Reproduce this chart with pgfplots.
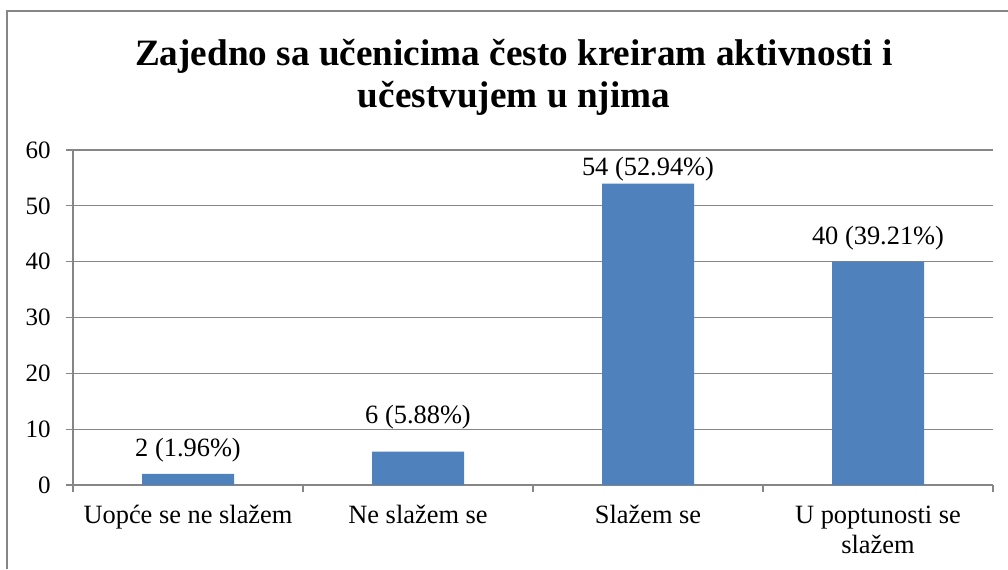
\documentclass[border=0pt]{standalone}
\usepackage{pgfplots}
\pgfplotsset{compat=1.18}
\usepackage{fontspec}
\setmainfont{Liberation Serif}
\definecolor{barblue}{HTML}{4F81BD}
\definecolor{linegray}{HTML}{868686}
\newcommand{\lblfont}{\fontsize{13.2}{15}\selectfont}
\begin{document}
\begin{tikzpicture}
% canvas: 1 px of the reference = 0.5pt
\useasboundingbox (0,0) rectangle (504pt,-284.5pt);
\draw[linegray, line width=1pt] (3.5pt,-284.5pt) -- (3.5pt,-5.5pt) -- (504pt,-5.5pt);
\node[anchor=base, font=\fontsize{18.6}{22}\selectfont\bfseries] at (257pt,-32.5pt)
  {Zajedno sa učenicima često kreiram aktivnosti i};
\node[anchor=base, font=\fontsize{18.6}{22}\selectfont\bfseries] at (257pt,-53.85pt)
  {učestvujem u njima};
\begin{axis}[
    at={(36.5pt,-242.5pt)}, anchor=south west,
    scale only axis,
    width=460pt, height=167.5pt,
    xmin=-0.5, xmax=3.5,
    ymin=0, ymax=60,
    enlargelimits=false,
    axis lines*=left,
    axis line style={linegray, line width=0.6pt},
    ymajorgrids,
    grid style={linegray, line width=0.6pt},
    tick align=outside,
    major tick length=3.5pt,
    tick style={linegray, line width=0.6pt},
    ytick={0,10,...,60},
    xtick={-0.5,0.5,1.5,2.5,3.5},
    xticklabels={Uopće se ne slažem, Ne slažem se, Slažem se,
      {\begin{tabular}[t]{@{}c@{}}U poptunosti se\\slažem\end{tabular}}, {}},
    xticklabel style={anchor=base, yshift=-15.7pt, xshift=57.5pt, font=\lblfont},
    yticklabel style={anchor=east, inner sep=0pt, xshift=-7.5pt,
      font=\fontsize{12.5}{14}\selectfont},
    /pgf/number format/assume math mode=true,
    ybar, bar width=46pt,
]
\addplot[fill=barblue, draw=none] coordinates {(0,2) (1,6) (2,54) (3,40)};
\node[anchor=base, font=\lblfont] at (axis cs:0,2)  [yshift=8.85pt]  {2 (1.96\%)};
\node[anchor=base, font=\lblfont] at (axis cs:1,6)  [yshift=14.15pt] {6 (5.88\%)};
\node[anchor=base, font=\lblfont] at (axis cs:2,54) [yshift=4.15pt]  {54 (52.94\%)};
\node[anchor=base, font=\lblfont] at (axis cs:3,40) [yshift=8.35pt]  {40 (39.21\%)};
\end{axis}
\end{tikzpicture}
\end{document}
